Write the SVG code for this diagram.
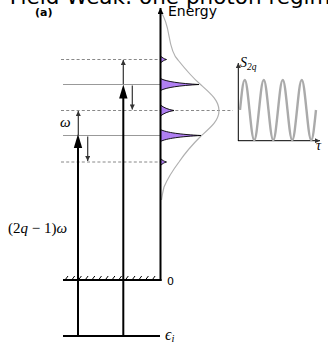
<svg xmlns="http://www.w3.org/2000/svg" width="328" height="344" viewBox="0 0 328 344">
<style>
.sans{font-family:"DejaVu Sans","Liberation Sans",sans-serif;fill:#000}
.math{font-family:"Liberation Serif","DejaVu Serif",serif;font-style:italic;fill:#000}
.lvl{stroke:#999;stroke-width:1;fill:none}
.dash{stroke:#888;stroke-width:1;stroke-dasharray:3,2.2;fill:none}
.thick{stroke:#000;stroke-width:2;fill:none}
.thin{stroke:#333;stroke-width:1.2;fill:none}
.peak{fill:#b07ff2;stroke:#000;stroke-width:0.9;stroke-linejoin:round}
.gray{stroke:#b0b0b0;stroke-width:1.2;fill:none}
</style>
<defs>
<marker id="th" viewBox="0 0 10 10" refX="10" refY="5" markerWidth="6" markerHeight="5" markerUnits="userSpaceOnUse" orient="auto"><path d="M0,0 L10,5 L0,10 Z" fill="#333"/></marker>
<marker id="ax" viewBox="0 0 10 10" refX="10" refY="5" markerWidth="8" markerHeight="6" markerUnits="userSpaceOnUse" orient="auto"><path d="M0,0 L10,5 L0,10 Z" fill="#000"/></marker>
</defs>
<rect width="328" height="344" fill="#fff"/>
<text class="sans" x="-6" y="3.5" font-size="21.5">r Field Weak: one photon regime</text>
<text class="sans" x="35" y="16" font-size="11" font-weight="bold">(a)</text>

<g id="levels">
<line class="dash" x1="61" y1="59.5" x2="160" y2="59.5"/>
<line class="lvl" x1="63" y1="84.5" x2="160" y2="84.5"/>
<line class="dash" x1="61" y1="110.5" x2="233" y2="110.5"/>
<line class="lvl" x1="63" y1="135.5" x2="160" y2="135.5"/>
<line class="dash" x1="61" y1="162" x2="160" y2="162"/>
</g>

<g id="gaussian">
<path class="gray" d="M161,12 C165,18 167,24 169,36 C171,48 174,56 178,60 C186,70 193,78 200,84 C210,93 219,100 219,110.5 C219,121 210,128 201,136 C193,144 185,153 179,162 C173,170 167,180 164,187 C163,191 162,196 161.5,200"/>
</g>

<g id="peaks">
<path class="peak" d="M160.5,56 C162.5,57.8 164,58.8 166.5,59.5 C164,60.2 162.5,61.2 160.5,63 Z"/>
<path class="peak" d="M160.5,78.5 C166,81.5 180,83.5 199,84.5 C180,85.5 166,87.5 160.5,90.5 Z"/>
<path class="peak" d="M160.5,105 C163.5,107.5 168,109.5 174,110.5 C168,111.5 163.5,113.5 160.5,116 Z"/>
<path class="peak" d="M160.5,129.5 C166,132.5 181,134.5 201,135.5 C181,136.5 166,138.5 160.5,141.5 Z"/>
<path class="peak" d="M160.5,158.5 C162.5,160.3 164,161.3 166.5,162 C164,162.7 162.5,163.7 160.5,165.5 Z"/>
</g>

<g id="energy-axis">
<line class="thick" x1="160.5" y1="281" x2="160.5" y2="8" marker-end="url(#ax)"/>
<text class="sans" x="168" y="16" font-size="14">Energy</text>
</g>

<g id="zero-level">
<line class="thick" x1="63" y1="280" x2="161.5" y2="280"/>
<path stroke="#000" stroke-width="1" d="M65,280 l3,-4 M71.7,280 l3,-4 M78.4,280 l3,-4 M85.1,280 l3,-4 M91.8,280 l3,-4 M98.5,280 l3,-4 M105.2,280 l3,-4 M111.9,280 l3,-4 M118.6,280 l3,-4 M125.3,280 l3,-4 M132,280 l3,-4 M138.7,280 l3,-4 M145.4,280 l3,-4 M152.1,280 l3,-4"/>
<text class="sans" x="167" y="285" font-size="11">0</text>
</g>

<g id="initial-level">
<line class="thick" x1="63" y1="336" x2="160" y2="336"/>
<text class="math" x="165" y="339.5" font-size="16">ϵ<tspan font-size="10.5" dy="2.5">i</tspan></text>
</g>

<g id="connectors">
<line class="thick" x1="78" y1="337" x2="78" y2="146"/>
<path d="M78,134 L82.2,148 L73.8,148 Z" fill="#000"/>
<line class="thick" x1="123.3" y1="337" x2="123.3" y2="96"/>
<path d="M123.3,84.5 L127.5,98.5 L119.1,98.5 Z" fill="#000"/>
<line class="thin" x1="78.3" y1="135" x2="78.3" y2="111" marker-end="url(#th)"/>
<line class="thin" x1="87.7" y1="136.5" x2="87.7" y2="161" marker-end="url(#th)"/>
<line class="thin" x1="123.3" y1="84" x2="123.3" y2="60" marker-end="url(#th)"/>
<line class="thin" x1="132.3" y1="85.5" x2="132.3" y2="109.5" marker-end="url(#th)"/>
</g>

<text class="math" x="60" y="127" font-size="15">ω</text>
<text class="math" x="8" y="233" font-size="15"><tspan font-style="normal">(2</tspan>q<tspan font-style="normal"> − 1)</tspan>ω</text>

<g id="inset">
<line stroke="#000" stroke-width="1" x1="238.3" y1="141" x2="238.3" y2="63" marker-end="url(#th)"/>
<line stroke="#000" stroke-width="1" x1="238" y1="140.7" x2="320" y2="140.7" marker-end="url(#th)"/>
<path stroke="#aaa" stroke-width="2.4" fill="none" d="M240,110 c1.55,-15.37 3.030,-30 4.75,-30 c1.72,0 3.2,15.37 4.75,30 c1.55,15.37 3.03,30 4.75,30 c1.72,0 3.2,-15.37 4.75,-30 c1.55,-15.37 3.03,-30 4.75,-30 c1.72,0 3.2,15.37 4.75,30 c1.55,15.37 3.03,30 4.75,30 c1.72,0 3.2,-15.37 4.75,-30 c1.55,-15.37 3.03,-30 4.75,-30 c1.72,0 3.2,15.37 4.75,30 c1.55,15.37 3.03,30 4.75,30 c1.72,0 3.2,-15.37 4.75,-30 c1.55,-15.37 3.03,-30 4.75,-30 c1.72,0 3.2,15.37 4.75,30 c1.55,15.37 3.03,30 4.75,30 c1.72,0 3.2,-15.37 4.75,-30"/>
<text class="math" x="240" y="67" font-size="14">S<tspan font-size="9.5" dy="3">2q</tspan></text>
<text class="math" x="316" y="150" font-size="14">τ</text>
</g>
</svg>
